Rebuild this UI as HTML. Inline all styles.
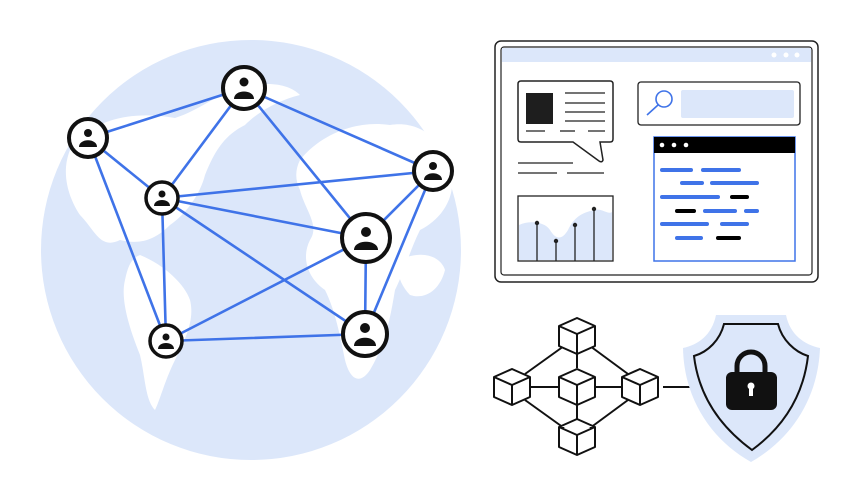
<!DOCTYPE html>
<html><head><meta charset="utf-8"><style>html,body{margin:0;padding:0;background:#fff}svg{display:block}</style></head>
<body>
<svg width="859" height="500" viewBox="0 0 859 500" xmlns="http://www.w3.org/2000/svg">
<defs>
<g id="cube">
<path d="M-18,-10 L0,-18 L18,-10 L18,10 L0,18 L-18,10 Z M-18,-10 L0,-2 L18,-10 M0,-2 L0,18" fill="#fff" stroke="#111" stroke-width="2" stroke-linejoin="round"/>
</g>
</defs>
<circle cx="251" cy="250" r="210" fill="#dce7fa"/>
<g fill="#fff">
<path d="M70,150 C90,120 130,110 175,118 C200,110 215,95 240,88 C270,80 290,85 300,95 C280,100 260,110 245,125 C225,135 215,150 205,175 C200,195 185,215 170,225 C155,240 140,245 120,240 C100,250 95,230 80,215 C70,200 60,175 70,150 Z"/>
<path d="M140,255 C165,265 185,285 190,300 C195,320 185,340 175,360 C165,380 160,400 155,410 C145,400 145,375 140,355 C130,330 120,300 125,280 C128,265 132,258 140,255 Z"/>
<path d="M300,160 C320,135 355,120 390,125 C420,120 445,140 452,175 C455,200 440,220 420,230 C410,250 405,270 395,290 C390,320 385,345 370,370 C360,385 350,380 345,360 C340,335 335,310 325,290 C310,280 300,260 310,240 C320,225 305,210 300,190 C295,180 295,170 300,160 Z"/>
<path d="M400,260 C420,250 440,255 445,270 C440,290 425,300 410,295 C400,285 395,270 400,260 Z"/>
</g>
<g stroke="#3f73e8" stroke-width="2.6" stroke-linecap="round">
<line x1="244" y1="88" x2="88" y2="138"/>
<line x1="244" y1="88" x2="162" y2="198"/>
<line x1="244" y1="88" x2="366" y2="238"/>
<line x1="244" y1="88" x2="433" y2="171"/>
<line x1="88" y1="138" x2="162" y2="198"/>
<line x1="88" y1="138" x2="166" y2="341"/>
<line x1="162" y1="198" x2="433" y2="171"/>
<line x1="162" y1="198" x2="366" y2="238"/>
<line x1="162" y1="198" x2="365" y2="334"/>
<line x1="162" y1="198" x2="166" y2="341"/>
<line x1="366" y1="238" x2="166" y2="341"/>
<line x1="366" y1="238" x2="433" y2="171"/>
<line x1="366" y1="238" x2="365" y2="334"/>
<line x1="433" y1="171" x2="365" y2="334"/>
<line x1="166" y1="341" x2="365" y2="334"/>
</g>
<g>
<g transform="translate(244,88)"><circle r="21" fill="#fff" stroke="#111" stroke-width="4"/><circle cy="-6" r="4.5" fill="#111"/><path d="M-10,11 C-10,1 10,1 10,11 Z" fill="#111"/></g>
<g transform="translate(88,138)"><circle r="19" fill="#fff" stroke="#111" stroke-width="4"/><circle cy="-5" r="4" fill="#111"/><path d="M-9,9 C-9,0 9,0 9,9 Z" fill="#111"/></g>
<g transform="translate(162,198)"><circle r="16" fill="#fff" stroke="#111" stroke-width="3.5"/><circle cy="-4" r="3.5" fill="#111"/><path d="M-8,8 C-8,0 8,0 8,8 Z" fill="#111"/></g>
<g transform="translate(433,171)"><circle r="19" fill="#fff" stroke="#111" stroke-width="4"/><circle cy="-5" r="4" fill="#111"/><path d="M-9,9 C-9,0 9,0 9,9 Z" fill="#111"/></g>
<g transform="translate(366,238)"><circle r="24" fill="#fff" stroke="#111" stroke-width="4"/><circle cy="-6" r="5" fill="#111"/><path d="M-12,12 C-12,1 12,1 12,12 Z" fill="#111"/></g>
<g transform="translate(365,334)"><circle r="22" fill="#fff" stroke="#111" stroke-width="4"/><circle cy="-6" r="5" fill="#111"/><path d="M-11,12 C-11,1 11,1 11,12 Z" fill="#111"/></g>
<g transform="translate(166,341)"><circle r="16" fill="#fff" stroke="#111" stroke-width="3.5"/><circle cy="-4" r="3.5" fill="#111"/><path d="M-8,8 C-8,0 8,0 8,8 Z" fill="#111"/></g>
</g>
<rect x="495" y="41" width="323" height="241" rx="6" fill="#fff" stroke="#222" stroke-width="1.5"/>
<rect x="501" y="47" width="311" height="228" rx="3" fill="#fff" stroke="#222" stroke-width="1.2"/>
<rect x="502" y="48" width="309" height="14" fill="#dce7fa"/>
<circle cx="774" cy="55" r="2.5" fill="#fff"/><circle cx="786" cy="55" r="2.5" fill="#fff"/><circle cx="797" cy="55" r="2.5" fill="#fff"/>
<path d="M521,81 H610 Q613,81 613,84 V139 Q613,142 610,142 H600 L603,160 Q602,163 599,161 L573,142 H521 Q518,142 518,139 V84 Q518,81 521,81 Z" fill="#fff" stroke="#222" stroke-width="1.5"/>
<rect x="526" y="93" width="27" height="31" fill="#1e1e1e"/>
<g stroke="#222" stroke-width="1.3">
<line x1="565" y1="93" x2="605" y2="93"/><line x1="565" y1="103" x2="605" y2="103"/><line x1="565" y1="112" x2="605" y2="112"/><line x1="565" y1="121" x2="605" y2="121"/>
<line x1="526" y1="131" x2="545" y2="131"/><line x1="560" y1="131" x2="575" y2="131"/><line x1="588" y1="131" x2="605" y2="131"/>
<line x1="518" y1="163" x2="573" y2="163"/><line x1="518" y1="173" x2="557" y2="173"/><line x1="567" y1="173" x2="604" y2="173"/>
</g>
<rect x="518" y="196" width="95" height="65" fill="#fff" stroke="#222" stroke-width="1.3"/>
<path d="M519,225 C530,220 545,222 550,230 C556,240 562,240 568,230 C575,215 585,212 595,210 C602,208 608,215 612,212 V260 H519 Z" fill="#dce7fa"/>
<g stroke="#222" stroke-width="1.3"><line x1="537" y1="223" x2="537" y2="261"/><line x1="556" y1="241" x2="556" y2="261"/><line x1="575" y1="225" x2="575" y2="261"/><line x1="594" y1="209" x2="594" y2="261"/></g>
<g fill="#222"><circle cx="537" cy="223" r="2.2"/><circle cx="556" cy="241" r="2.2"/><circle cx="575" cy="225" r="2.2"/><circle cx="594" cy="209" r="2.2"/></g>
<rect x="638" y="82" width="162" height="43" rx="3" fill="#fff" stroke="#222" stroke-width="1.3"/>
<circle cx="664" cy="99" r="8" fill="none" stroke="#3f73e8" stroke-width="1.6"/>
<line x1="658" y1="105" x2="647" y2="115" stroke="#3f73e8" stroke-width="1.6"/>
<rect x="681" y="90" width="113" height="28" rx="2" fill="#dce7fa"/>
<rect x="654" y="137" width="141" height="124" fill="#fff" stroke="#3f73e8" stroke-width="1.5"/>
<rect x="654" y="137" width="141" height="16" fill="#000"/>
<g fill="#fff"><circle cx="662" cy="145" r="2.3"/><circle cx="674" cy="145" r="2.3"/><circle cx="686" cy="145" r="2.3"/></g>
<g stroke-width="4" stroke-linecap="round">
<line x1="662" y1="170" x2="691" y2="170" stroke="#3f73e8"/><line x1="703" y1="170" x2="739" y2="170" stroke="#3f73e8"/>
<line x1="682" y1="183" x2="702" y2="183" stroke="#3f73e8"/><line x1="712" y1="183" x2="757" y2="183" stroke="#3f73e8"/>
<line x1="662" y1="197" x2="718" y2="197" stroke="#3f73e8"/><line x1="732" y1="197" x2="747" y2="197" stroke="#000"/>
<line x1="677" y1="211" x2="694" y2="211" stroke="#000"/><line x1="705" y1="211" x2="735" y2="211" stroke="#3f73e8"/><line x1="746" y1="211" x2="757" y2="211" stroke="#3f73e8"/>
<line x1="662" y1="224" x2="707" y2="224" stroke="#3f73e8"/><line x1="722" y1="224" x2="747" y2="224" stroke="#3f73e8"/>
<line x1="677" y1="238" x2="701" y2="238" stroke="#3f73e8"/><line x1="718" y1="238" x2="739" y2="238" stroke="#000"/>
</g>
<g stroke="#111" stroke-width="2">
<line x1="564" y1="346" x2="525" y2="374"/><line x1="590" y1="346" x2="628" y2="374"/>
<line x1="525" y1="400" x2="564" y2="428"/><line x1="628" y1="400" x2="590" y2="428"/>
<line x1="577" y1="354" x2="577" y2="368"/><line x1="577" y1="405" x2="577" y2="420"/>
<line x1="530" y1="387" x2="560" y2="387"/><line x1="595" y1="387" x2="622" y2="387"/>
<line x1="663" y1="387" x2="690" y2="387"/>
</g>
<use href="#cube" x="577" y="336"/><use href="#cube" x="512" y="387"/><use href="#cube" x="577" y="387"/><use href="#cube" x="640" y="387"/><use href="#cube" x="577" y="437"/>
<path d="M716,315 H786 C790,335 805,345 820,348 C818,400 790,440 751,462 C712,440 684,400 683,348 C698,345 712,335 716,315 Z" fill="#dce7fa"/>
<path d="M724,324 H778 C782,340 795,352 808,356 C803,398 782,428 752,450 C722,428 699,398 694,356 C708,352 720,340 724,324 Z" fill="#dce7fa" stroke="#111" stroke-width="2"/>
<path d="M737,374 V366 A14,14 0 0 1 765,366 V374" fill="none" stroke="#111" stroke-width="5"/>
<rect x="726" y="372" width="51" height="38" rx="6" fill="#111"/>
<circle cx="751" cy="386" r="3.5" fill="#fff"/><rect x="749" y="386" width="4" height="10" fill="#fff"/>
</svg>
</body></html>
